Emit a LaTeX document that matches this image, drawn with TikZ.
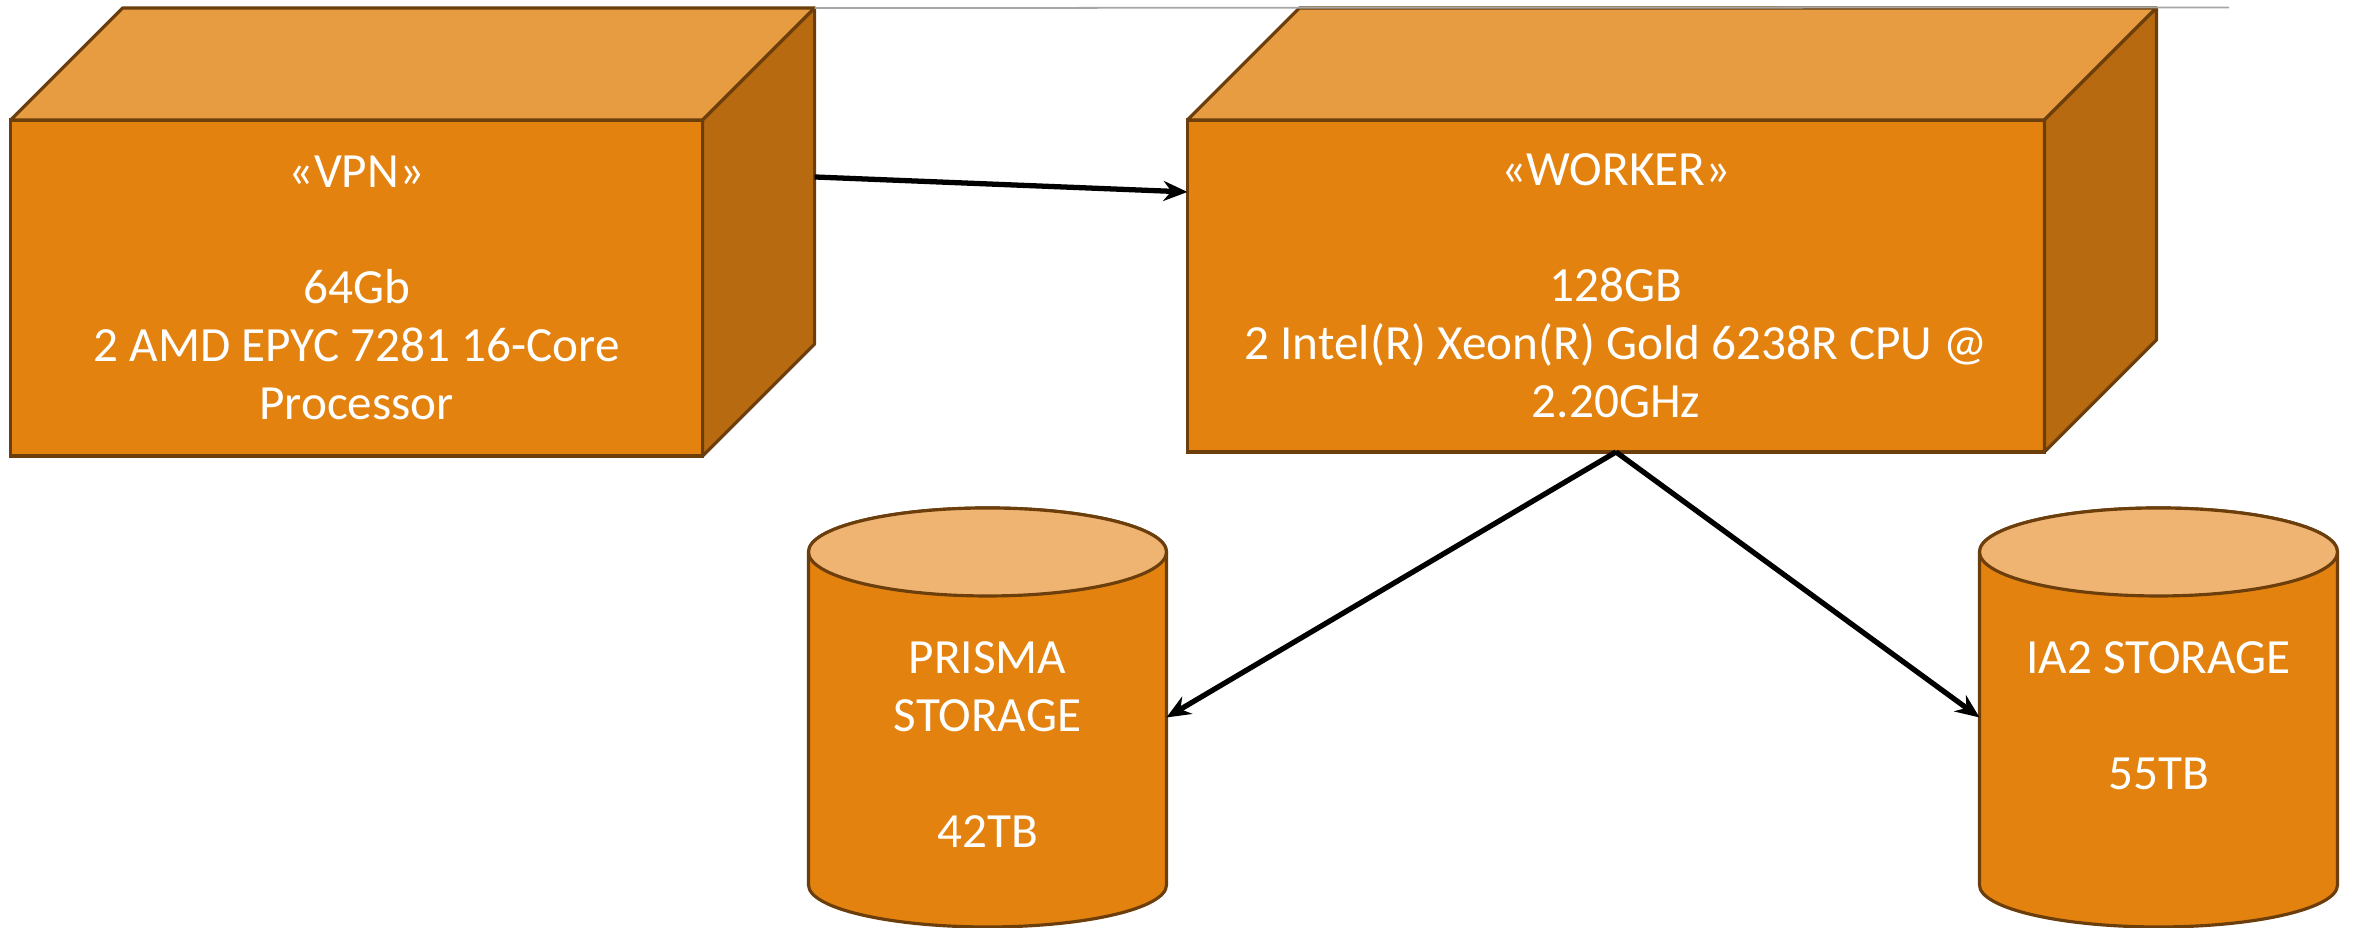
\documentclass[tikz,border=0pt]{standalone}
\usepackage{fontspec}
\setmainfont{Carlito}
\usepackage{tikz}
\usetikzlibrary{calc,arrows.meta}
\definecolor{nodefront}{HTML}{E3820F}
\definecolor{nodetop}{HTML}{E89C41}
\definecolor{nodeside}{HTML}{B76A10}
\definecolor{nodeedge}{HTML}{6B3E0C}
\definecolor{disktop}{HTML}{F0B472}
\tikzstyle{server} = [draw=nodeedge, line width=0.9pt, fill=nodefront, text=white, align=center, inner sep=0pt, outer sep=0pt, font=\fontsize{14}{16.5}\selectfont]
\tikzstyle{face} = [draw=nodeedge, line width=0.9pt, line join=round]
\tikzstyle{disk} = [inner sep=0pt, outer sep=0pt, minimum width=3.58cm, minimum height=4.19cm]
\tikzstyle{disktext} = [text=white, align=center, anchor=north, inner sep=0pt, font=\fontsize{14}{16.5}\selectfont]
\tikzstyle{link} = [-{Stealth[length=2.4mm,width=2mm]}, line width=1.5pt, black]
\newcommand{\serverfaces}[1]{
  \draw[face, fill=nodetop] (#1.north west) -- ++(1.12,1.12) -- ($(#1.north east)+(1.12,1.12)$) -- (#1.north east) -- cycle;
  \draw[face, fill=nodeside] (#1.north east) -- ++(1.12,1.12) -- ($(#1.south east)+(1.12,1.12)$) -- (#1.south east) -- cycle;
}
\newcommand{\diskshape}[1]{
  \draw[face, fill=nodefront] ($(#1.north west)+(0,-0.44)$) -- ($(#1.south west)+(0,0.42)$) arc (180:360:1.79cm and 0.42cm) -- ($(#1.north east)+(0,-0.44)$) arc (0:180:1.79cm and 0.44cm) -- cycle;
  \draw[face, fill=disktop] ($(#1.north)+(0,-0.44)$) ellipse (1.79cm and 0.44cm);
}
\begin{document}
\begin{tikzpicture}
\useasboundingbox (0,0) rectangle (23.54,9.28);
\node[server, minimum width=6.92cm, minimum height=3.36cm] (vpn) at (3.566,6.40) {«VPN»\\[16.5pt]64Gb\\2 AMD EPYC 7281 16-Core\\Processor};
\serverfaces{vpn}
\node[server, minimum width=8.57cm, minimum height=3.32cm] (worker) at (16.16,6.42) {«WORKER»\\[16.5pt]128GB\\2 Intel(R) Xeon(R) Gold 6238R CPU @\\2.20GHz};
\serverfaces{worker}
\node[disk] (prisma) at (9.875,2.105) {};
\diskshape{prisma}
\node[disktext] (prismatext) at (9.875,2.87) {PRISMA\\STORAGE\\[16.5pt]42TB};
\node[disk] (iatwo) at (21.585,2.105) {};
\diskshape{iatwo}
\node[disktext] (iatwotext) at (21.585,2.87) {IA2 STORAGE\\[16.5pt]55TB};
\coordinate (vpnport) at ($(vpn.north east)+(1.12,-0.57)$);
\coordinate (workerport) at ($(worker.north west)+(0,-0.72)$);
\coordinate (lineend) at (22.29,9.205);
\draw[black!35, line width=0.5pt] ($(vpn.north east)+(1.12,1.12)$) -- (lineend);
\draw[link] (vpnport) -- (workerport);
\draw[link] (worker.south) -- (prisma.east);
\draw[link] (worker.south) -- (iatwo.west);
\end{tikzpicture}
\end{document}
